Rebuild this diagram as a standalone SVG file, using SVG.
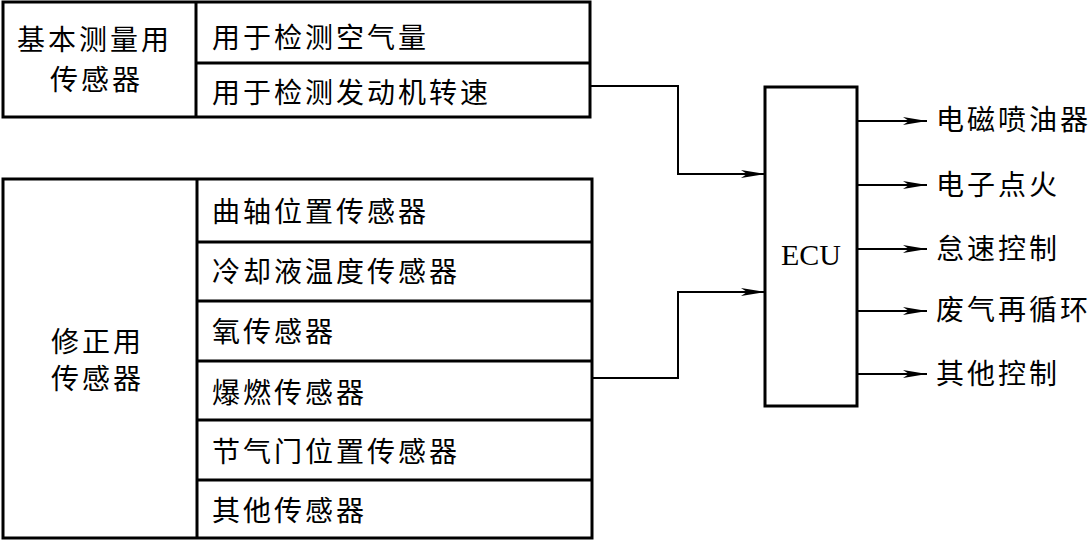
<svg xmlns="http://www.w3.org/2000/svg" width="1089" height="540" viewBox="0 0 1089 540">
<defs>
<style>
.box{fill:#fff;stroke:#000;stroke-width:3}
.ln{fill:none;stroke:#000;stroke-width:2}
.t{font-family:"Noto Sans CJK SC","Liberation Serif",serif;font-size:28px;fill:#000;letter-spacing:3px}
.e{font-family:"Liberation Serif",serif;font-size:30px;fill:#000}
</style>
<marker id="ar" markerWidth="24" markerHeight="10" refX="24" refY="5" orient="auto" markerUnits="userSpaceOnUse">
<path d="M0,1 L24,5 L0,9 L6,5 Z" fill="#000"/>
</marker>
</defs>
<rect width="1089" height="540" fill="#fff"/>
<g id="basic">
<rect class="box" x="3" y="2" width="587" height="115"/>
<line class="ln" x1="196" y1="2" x2="196" y2="117" style="stroke-width:3"/>
<line class="ln" x1="196" y1="63" x2="590" y2="63" style="stroke-width:3"/>
<text class="t" x="17" y="50">基本测量用</text>
<text class="t" x="50" y="90">传感器</text>
<text class="t" x="212" y="48">用于检测空气量</text>
<text class="t" x="212" y="103">用于检测发动机转速</text>
</g>
<g id="correction">
<rect class="box" x="3" y="179" width="589" height="359"/>
<line class="ln" x1="197" y1="179" x2="197" y2="538" style="stroke-width:3"/>
<g class="ln" style="stroke-width:3">
<line x1="197" y1="242" x2="592" y2="242"/>
<line x1="197" y1="301" x2="592" y2="301"/>
<line x1="197" y1="361" x2="592" y2="361"/>
<line x1="197" y1="420" x2="592" y2="420"/>
<line x1="197" y1="480" x2="592" y2="480"/>
</g>
<text class="t" x="51" y="352">修正用</text>
<text class="t" x="51" y="389">传感器</text>
<text class="t" x="212" y="222">曲轴位置传感器</text>
<text class="t" x="212" y="282">冷却液温度传感器</text>
<text class="t" x="212" y="342">氧传感器</text>
<text class="t" x="212" y="403">爆燃传感器</text>
<text class="t" x="212" y="462">节气门位置传感器</text>
<text class="t" x="212" y="521">其他传感器</text>
</g>
<g id="ecu">
<rect class="box" x="765" y="87" width="92" height="319"/>
<text class="e" x="811" y="265" text-anchor="middle">ECU</text>
</g>
<g id="outputs">
<text class="t" x="936" y="130">电磁喷油器</text>
<text class="t" x="936" y="195">电子点火</text>
<text class="t" x="936" y="259">怠速控制</text>
<text class="t" x="936" y="320">废气再循环</text>
<text class="t" x="936" y="384">其他控制</text>
</g>
<g id="connectors">
<polyline class="ln" points="590,86 678,86 678,174 765,174" marker-end="url(#ar)"/>
<polyline class="ln" points="592,378 678,378 678,292 765,292" marker-end="url(#ar)"/>
<line class="ln" x1="857" y1="121" x2="927" y2="121" marker-end="url(#ar)"/>
<line class="ln" x1="857" y1="185" x2="927" y2="185" marker-end="url(#ar)"/>
<line class="ln" x1="857" y1="249" x2="927" y2="249" marker-end="url(#ar)"/>
<line class="ln" x1="857" y1="311" x2="927" y2="311" marker-end="url(#ar)"/>
<line class="ln" x1="857" y1="374" x2="927" y2="374" marker-end="url(#ar)"/>
</g>
</svg>
